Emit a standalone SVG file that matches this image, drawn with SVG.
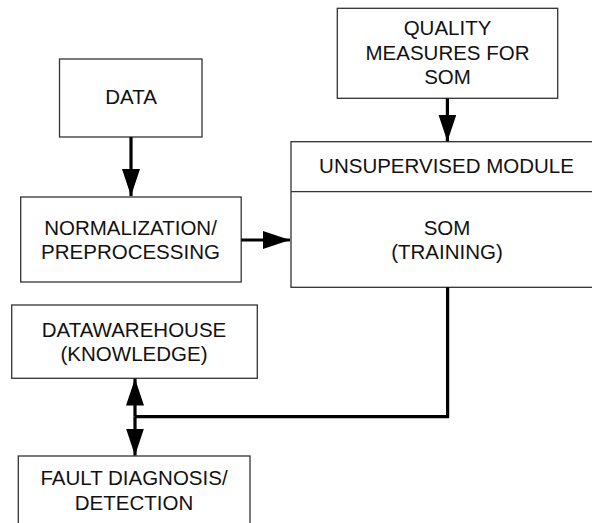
<svg xmlns="http://www.w3.org/2000/svg" width="592" height="523" viewBox="0 0 592 523">
<defs>
<style>
.box{fill:#fff;stroke:#333;stroke-width:1.3}
.t{font-family:"Liberation Sans",Arial,sans-serif;font-size:20.5px;fill:#111;text-anchor:middle}
.c{fill:none;stroke:#000;stroke-width:3.2}
</style>
<marker id="ah" viewBox="0 0 27 18" refX="27" refY="9" markerWidth="27" markerHeight="18" markerUnits="userSpaceOnUse" orient="auto">
<path d="M0,0 L27,9 L0,18 Z" fill="#000"/>
</marker>
</defs>
<rect width="592" height="523" fill="#fff"/>
<g id="data">
<rect class="box" x="59.5" y="59" width="142.5" height="78"/>
<text class="t" x="131" y="104">DATA</text>
</g>
<g id="normalization">
<rect class="box" x="20.7" y="197" width="220.5" height="85"/>
<text class="t" x="130.5" y="234.6">NORMALIZATION/</text>
<text class="t" x="130.5" y="258.6">PREPROCESSING</text>
</g>
<g id="quality">
<rect class="box" x="337.3" y="8.3" width="220.4" height="90"/>
<text class="t" x="447.5" y="35">QUALITY</text>
<text class="t" x="447.5" y="59.5">MEASURES FOR</text>
<text class="t" x="447.5" y="84">SOM</text>
</g>
<g id="unsupervised">
<rect class="box" x="291" y="141.7" width="320" height="145.6"/>
<line class="box" x1="291" y1="191.7" x2="611" y2="191.7"/>
<text class="t" x="446.5" y="172.7">UNSUPERVISED MODULE</text>
<text class="t" x="447" y="234.5">SOM</text>
<text class="t" x="447" y="259">(TRAINING)</text>
</g>
<g id="datawarehouse">
<rect class="box" x="11.7" y="305" width="245.6" height="73.3"/>
<text class="t" x="134" y="336.7">DATAWAREHOUSE</text>
<text class="t" x="134" y="360.5">(KNOWLEDGE)</text>
</g>
<g id="fault">
<rect class="box" x="18.3" y="456" width="231.7" height="80"/>
<text class="t" x="134" y="485">FAULT DIAGNOSIS/</text>
<text class="t" x="134" y="509.5">DETECTION</text>
</g>
<g id="connectors">
<line class="c" x1="131" y1="137" x2="131" y2="196" marker-end="url(#ah)"/>
<line class="c" x1="241.2" y1="240" x2="290" y2="240" marker-end="url(#ah)"/>
<line class="c" x1="447.4" y1="98.3" x2="447.4" y2="141.5" marker-end="url(#ah)"/>
<polyline class="c" points="447.6,287.3 447.6,416.7 135,416.7"/>
<line class="c" x1="135" y1="416.7" x2="135" y2="378.6" marker-end="url(#ah)"/>
<line class="c" x1="135" y1="416.7" x2="135" y2="455.5" marker-end="url(#ah)"/>
</g>
</svg>
